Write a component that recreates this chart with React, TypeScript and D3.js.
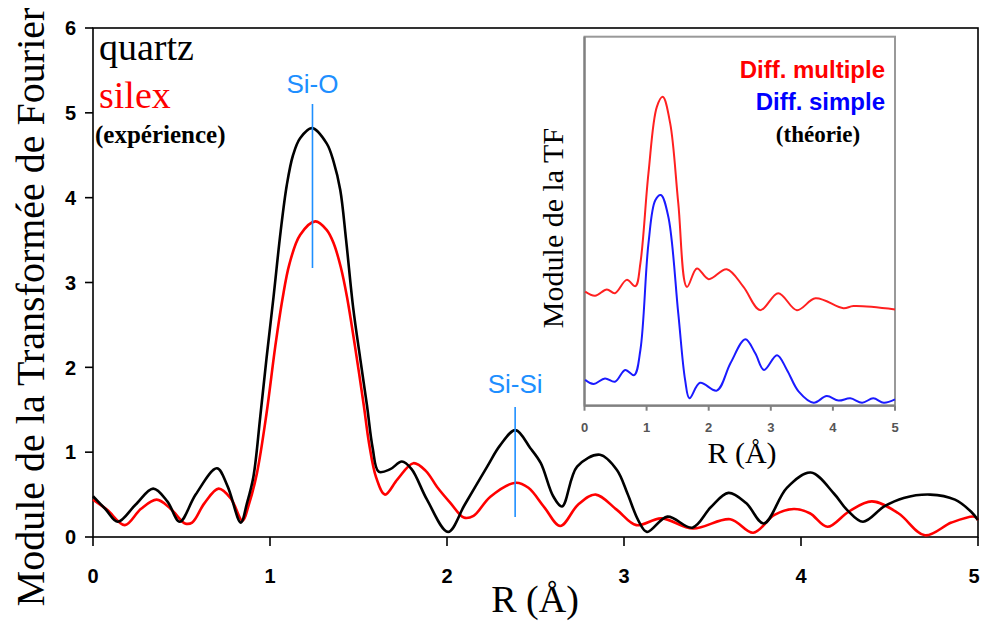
import React from "react";
import * as d3 from "d3";

// ---- Main chart data (experiment) ----
const quartzR = [0.00,0.07,0.14,0.24,0.34,0.42,0.49,0.58,0.70,0.76,0.835,0.87,0.907,0.945,0.98,1.02,1.06,1.095,1.13,1.17,1.237,1.32,1.36,1.397,1.43,1.47,1.51,1.548,1.58,1.614,1.68,1.745,1.80,1.887,2.006,2.10,2.227,2.30,2.387,2.47,2.53,2.60,2.65,2.735,2.864,2.96,3.02,3.08,3.13,3.245,3.386,3.49,3.59,3.69,3.79,3.92,4.055,4.187,4.26,4.35,4.47,4.58,4.73,4.87,4.96,5.00];
const quartzV = [0.48,0.33,0.18,0.38,0.57,0.42,0.18,0.50,0.81,0.60,0.17,0.40,0.72,1.42,2.10,2.83,3.60,4.15,4.50,4.70,4.82,4.64,4.42,4.09,3.50,2.70,2.10,1.55,1.05,0.77,0.80,0.89,0.80,0.44,0.06,0.38,0.83,1.08,1.26,1.05,0.87,0.48,0.36,0.83,0.97,0.79,0.51,0.20,0.06,0.24,0.11,0.35,0.52,0.40,0.16,0.58,0.76,0.51,0.32,0.18,0.36,0.46,0.50,0.44,0.30,0.20];

const silexR = [0.00,0.08,0.18,0.27,0.36,0.44,0.52,0.56,0.63,0.71,0.78,0.845,0.88,0.926,0.98,1.03,1.07,1.11,1.17,1.256,1.32,1.36,1.40,1.435,1.48,1.53,1.56,1.60,1.65,1.72,1.81,1.88,1.944,2.02,2.095,2.15,2.245,2.387,2.46,2.55,2.64,2.74,2.84,2.96,3.07,3.21,3.39,3.60,3.73,3.85,3.96,4.05,4.15,4.27,4.40,4.55,4.70,4.85,4.98,5.00];
const silexV = [0.44,0.32,0.14,0.33,0.44,0.33,0.16,0.17,0.40,0.57,0.45,0.19,0.38,0.75,1.45,2.25,2.80,3.22,3.56,3.72,3.62,3.46,3.18,2.83,2.25,1.55,1.10,0.70,0.50,0.68,0.87,0.78,0.59,0.40,0.23,0.25,0.475,0.64,0.58,0.35,0.13,0.38,0.50,0.32,0.14,0.22,0.10,0.21,0.05,0.26,0.33,0.28,0.12,0.30,0.42,0.28,0.02,0.17,0.24,0.20];

// ---- Inset data (theory, arbitrary units) ----
const multR = [0.01,0.17,0.36,0.49,0.68,0.82,0.90,1.03,1.165,1.26,1.38,1.51,1.65,1.81,2.00,2.29,2.56,2.83,3.12,3.42,3.72,4.17,4.33,5.00];
const multV = [3.09,2.98,3.15,3.05,3.41,3.24,3.86,6.30,8.10,8.37,7.65,5.49,3.22,3.72,3.43,3.70,3.22,2.59,3.05,2.59,2.91,2.64,2.70,2.61];

const simpR = [0.01,0.145,0.33,0.49,0.655,0.80,0.90,1.03,1.14,1.23,1.35,1.51,1.62,1.69,1.86,2.13,2.35,2.59,2.75,2.89,3.10,3.26,3.45,3.69,3.90,4.09,4.28,4.47,4.65,4.82,5.00];
const simpV = [0.70,0.59,0.74,0.65,0.97,0.83,1.51,4.40,5.57,5.71,5.12,2.50,0.70,0.20,0.62,0.41,1.15,1.80,1.42,0.97,1.37,0.97,0.38,0.08,0.26,0.14,0.20,0.08,0.20,0.08,0.17];

const xTicks = [0, 1, 2, 3, 4, 5];
const yTicks = [0, 1, 2, 3, 4, 5, 6];
const peakLabels = ["Si-O", "Si-Si"];
const peakPos = [1.24, 2.385];

const SERIF = "'Liberation Serif', 'Times New Roman', serif";
const SANS = "'Liberation Sans', Arial, sans-serif";
const BLUE_LBL = "#1e8fff";

export default function App() {
  const W = 981, H = 622;
  const x = d3.scaleLinear().domain([0, 5]).range([93, 978]);
  const y = d3.scaleLinear().domain([0, 6]).range([537, 28]);

  const line = d3
    .line<[number, number]>()
    .x((d) => x(d[0]))
    .y((d) => y(d[1]))
    .curve(d3.curveCatmullRom.alpha(0.5));

  const qPts = quartzR.map((r, i) => [r, quartzV[i]] as [number, number]);
  const sPts = silexR.map((r, i) => [r, silexV[i]] as [number, number]);

  // inset
  const ix = d3.scaleLinear().domain([0, 5]).range([584.5, 895]);
  const iy = d3.scaleLinear().domain([0, 10]).range([405.7, 36.7]);
  const iline = d3
    .line<[number, number]>()
    .x((d) => ix(d[0]))
    .y((d) => iy(d[1]))
    .curve(d3.curveCatmullRom.alpha(0.5));
  const mPts = multR.map((r, i) => [r, multV[i]] as [number, number]);
  const sPts2 = simpR.map((r, i) => [r, simpV[i]] as [number, number]);

  const peakTop = [104, 407];
  const peakBot = [268, 517];
  const peakLblY = [93, 393];

  return (
    <svg
      width={W}
      height={H}
      viewBox={`0 0 ${W} ${H}`}
      style={{ position: "absolute", left: 0, top: 0, background: "#fff" }}
    >
      <rect x={0} y={0} width={W} height={H} fill="#fff" />

      {/* main frame */}
      <rect x={x(0)} y={y(6)} width={x(5) - x(0)} height={y(0) - y(6)} fill="none" stroke="#000" strokeWidth={1.6} />

      {/* y ticks */}
      {yTicks.map((t) => (
        <g key={"yt" + t}>
          <line x1={x(0) - 8} x2={x(0)} y1={y(t)} y2={y(t)} stroke="#000" strokeWidth={1.6} />
          <text x={76} y={y(t)} dy="0.36em" textAnchor="end" fontFamily={SANS} fontWeight="bold" fontSize={20} fill="#000">
            {t}
          </text>
        </g>
      ))}
      {/* x ticks */}
      {xTicks.map((t) => (
        <g key={"xt" + t}>
          <line x1={x(t)} x2={x(t)} y1={y(0)} y2={y(0) + 9} stroke="#000" strokeWidth={1.6} />
          <text x={Math.min(x(t), 974)} y={583} textAnchor="middle" fontFamily={SANS} fontWeight="bold" fontSize={20} fill="#000">
            {t}
          </text>
        </g>
      ))}

      {/* axis titles */}
      <text
        transform={`translate(44, 307) rotate(-90)`}
        textAnchor="middle"
        fontFamily={SERIF}
        fontSize={40}
        fill="#000"
      >
        Module de la Transformée de Fourier
      </text>
      <text x={535} y={612} textAnchor="middle" fontFamily={SERIF} fontSize={38} fill="#000">
        R (Å)
      </text>

      {/* legend text */}
      <text x={99} y={60} fontFamily={SERIF} fontSize={38} fill="#000">quartz</text>
      <text x={99} y={108} fontFamily={SERIF} fontSize={38} fill="#ff0000">silex</text>
      <text x={95} y={143} fontFamily={SERIF} fontSize={25} fontWeight="bold" fill="#000">(expérience)</text>

      {/* curves */}
      <path d={line(sPts) || ""} fill="none" stroke="#ff0000" strokeWidth={2.6} strokeLinejoin="round" />
      <path d={line(qPts) || ""} fill="none" stroke="#000" strokeWidth={2.6} strokeLinejoin="round" />

      {/* peak markers */}
      {peakLabels.map((lbl, i) => (
        <g key={lbl}>
          <line x1={x(peakPos[i])} x2={x(peakPos[i])} y1={peakTop[i]} y2={peakBot[i]} stroke={BLUE_LBL} strokeWidth={1.6} />
          <text x={x(peakPos[i])} y={peakLblY[i]} textAnchor="middle" fontFamily={SANS} fontSize={26} fill={BLUE_LBL}>
            {lbl}
          </text>
        </g>
      ))}

      {/* inset */}
      <rect x={ix(0)} y={iy(10)} width={ix(5) - ix(0)} height={iy(0) - iy(10)} fill="#fff" stroke="#999" strokeWidth={2} />
      <line x1={ix(0)} x2={ix(5)} y1={iy(0)} y2={iy(0)} stroke="#808080" strokeWidth={2.2} />
      <line x1={ix(0)} x2={ix(0)} y1={iy(0)} y2={iy(10)} stroke="#808080" strokeWidth={2.2} />
      {xTicks.map((t) => (
        <g key={"ixt" + t}>
          <line x1={ix(t)} x2={ix(t)} y1={iy(0)} y2={iy(0) + 5} stroke="#808080" strokeWidth={2} />
          <text x={ix(t)} y={432} textAnchor="middle" fontFamily={SANS} fontWeight="bold" fontSize={13} fill="#555">
            {t}
          </text>
        </g>
      ))}
      <path d={iline(mPts) || ""} fill="none" stroke="#ff2020" strokeWidth={2} strokeLinejoin="round" />
      <path d={iline(sPts2) || ""} fill="none" stroke="#1a1aff" strokeWidth={2} strokeLinejoin="round" />

      <text x={885} y={78} textAnchor="end" fontFamily={SANS} fontWeight="bold" fontSize={24} fill="#ff0000">
        Diff. multiple
      </text>
      <text x={885} y={110} textAnchor="end" fontFamily={SANS} fontWeight="bold" fontSize={24} fill="#0000ff">
        Diff. simple
      </text>
      <text x={818} y={142} textAnchor="middle" fontFamily={SERIF} fontWeight="bold" fontSize={23} fill="#000">
        (théorie)
      </text>

      <text
        transform={`translate(563, 228) rotate(-90)`}
        textAnchor="middle"
        fontFamily={SERIF}
        fontSize={30}
        fill="#000"
      >
        Module de la TF
      </text>
      <text x={742} y={463} textAnchor="middle" fontFamily={SERIF} fontSize={30} fill="#000">
        R (Å)
      </text>
    </svg>
  );
}
